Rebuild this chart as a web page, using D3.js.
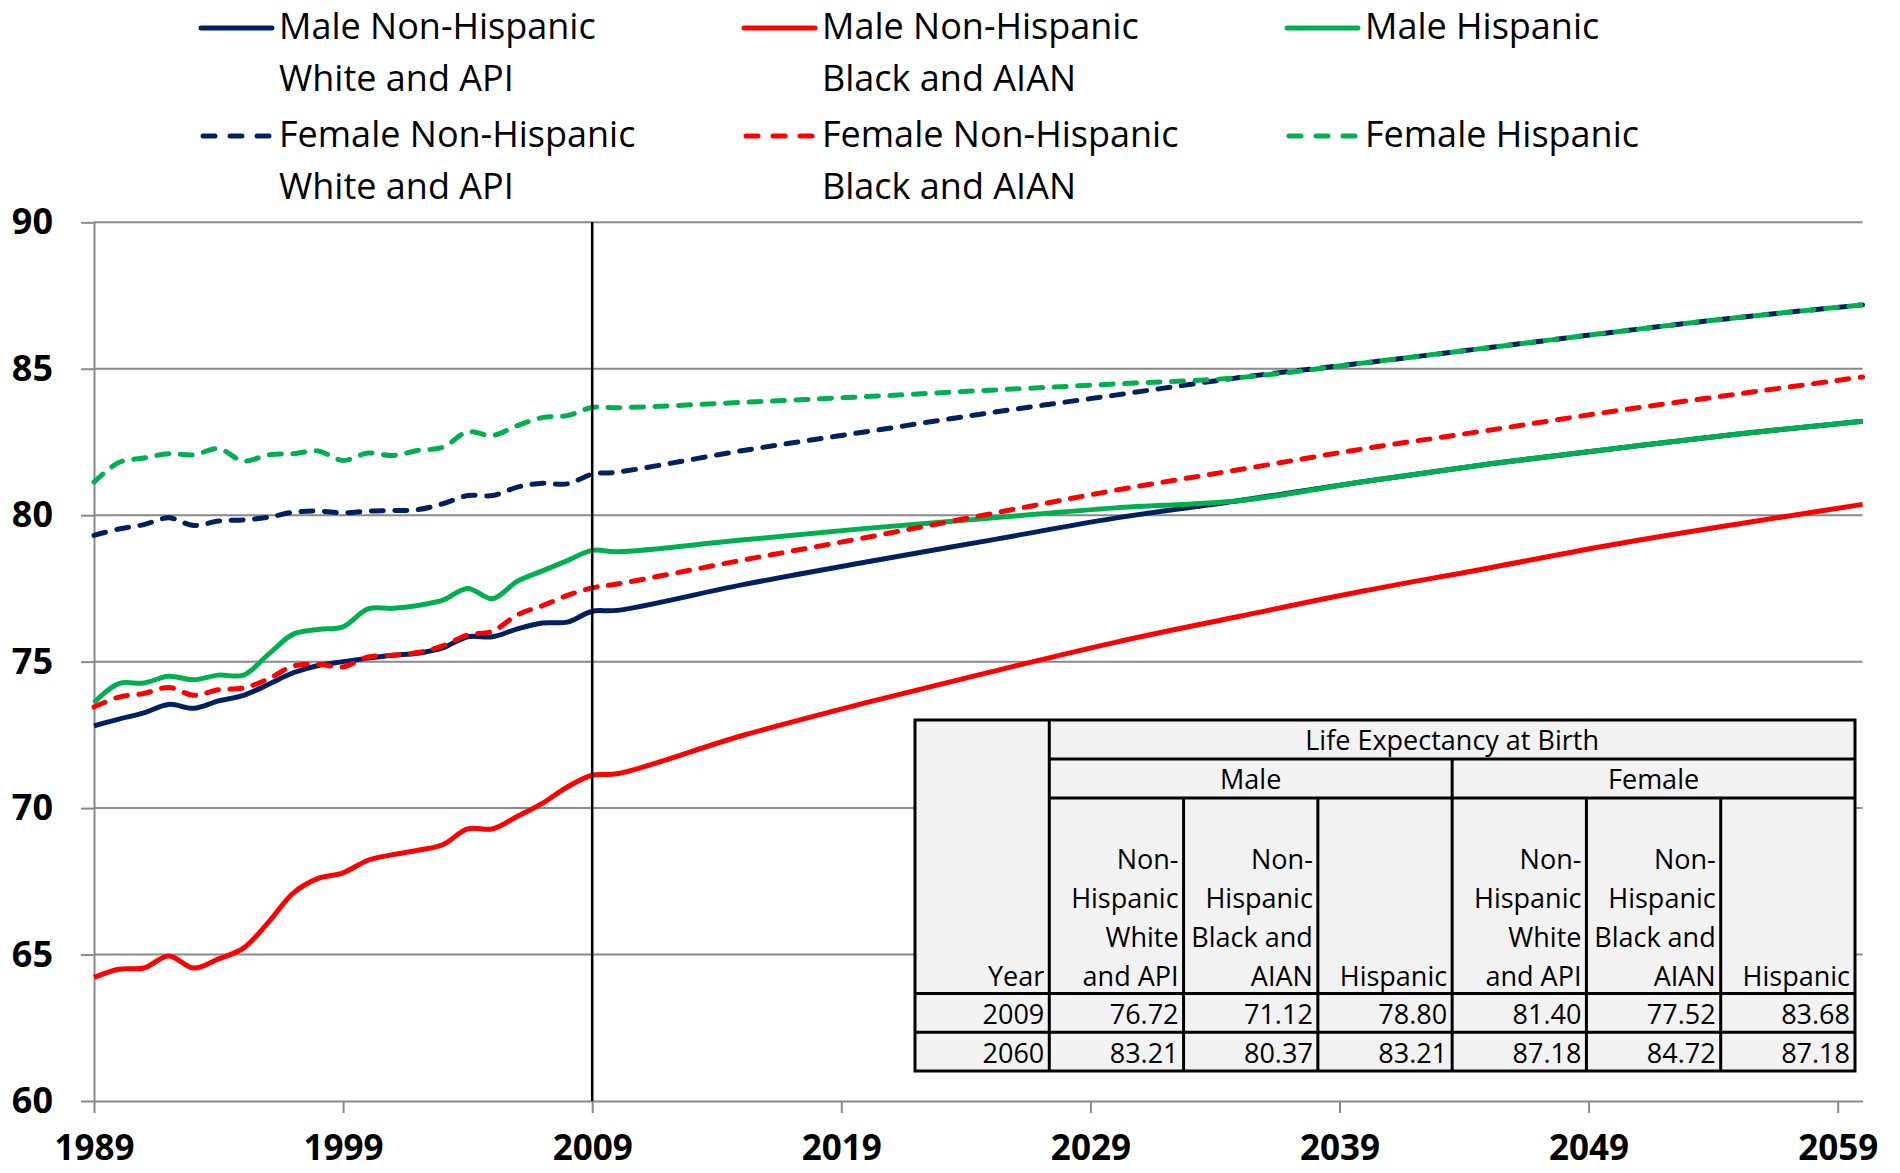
<!DOCTYPE html>
<html>
<head>
<meta charset="utf-8">
<script src="https://cdn.jsdelivr.net/npm/d3@7"></script>
<style>
  body { margin: 0; background: #fff; }
  svg { display: block; font-family: 'Open Sans', sans-serif; }
</style>
</head>
<body>
<svg id="chart" width="1900" height="1173"></svg>
<script>
// years: annual history, then the projection read every 5 years
const years = [1989, 1990, 1991, 1992, 1993, 1994, 1995, 1996, 1997, 1998, 1999,
               2000, 2001, 2002, 2003, 2004, 2005, 2006, 2007, 2008, 2009, 2010,
               2015, 2020, 2025, 2030, 2035, 2040, 2045, 2050, 2055, 2060]

const maleNHWhite = [72.81, 73.04, 73.25, 73.54, 73.41, 73.66, 73.85, 74.22, 74.62, 74.87, 75.00,
                     75.12, 75.22, 75.29, 75.47, 75.85, 75.85, 76.12, 76.32, 76.35, 76.72, 76.75,
                     77.62, 78.40, 79.15, 79.90, 80.50, 81.15, 81.75, 82.27, 82.77, 83.21]
const maleNHBlack = [64.22, 64.50, 64.54, 64.95, 64.54, 64.85, 65.22, 66.10, 67.10, 67.60, 67.79,
                     68.22, 68.41, 68.56, 68.75, 69.29, 69.29, 69.72, 70.16, 70.72, 71.12, 71.17,
                     72.47, 73.60, 74.65, 75.66, 76.55, 77.42, 78.20, 79.00, 79.70, 80.37]
const maleHispanic = [73.60, 74.25, 74.27, 74.50, 74.38, 74.54, 74.54, 75.25, 75.94, 76.10, 76.19,
                      76.80, 76.82, 76.92, 77.10, 77.50, 77.15, 77.75, 78.10, 78.45, 78.80, 78.75,
                      79.15, 79.55, 79.90, 80.25, 80.50, 81.15, 81.75, 82.27, 82.77, 83.21]
const femaleNHWhite = [79.31, 79.53, 79.68, 79.91, 79.65, 79.80, 79.84, 79.93, 80.10, 80.14, 80.08,
                       80.14, 80.16, 80.19, 80.39, 80.67, 80.67, 80.96, 81.09, 81.07, 81.40, 81.47,
                       82.20, 82.85, 83.50, 84.10, 84.70, 85.20, 85.72, 86.25, 86.75, 87.18]
const femaleNHBlack = [73.45, 73.79, 73.91, 74.12, 73.85, 74.04, 74.10, 74.41, 74.85, 74.91, 74.82,
                       75.16, 75.22, 75.31, 75.54, 75.91, 76.04, 76.60, 76.91, 77.26, 77.52, 77.65,
                       78.46, 79.24, 80.05, 80.85, 81.56, 82.27, 82.90, 83.55, 84.14, 84.72]
const femaleHispanic = [81.13, 81.80, 81.95, 82.10, 82.06, 82.27, 81.85, 82.06, 82.10, 82.19, 81.87,
                        82.12, 82.04, 82.21, 82.32, 82.84, 82.72, 83.06, 83.33, 83.40, 83.68, 83.67,
                        83.85, 84.05, 84.27, 84.48, 84.70, 85.20, 85.72, 86.25, 86.75, 87.18]

const seriesNames = [['Male Non-Hispanic', 'White and API'], ['Male Non-Hispanic', 'Black and AIAN'], ['Male Hispanic'],
                     ['Female Non-Hispanic', 'White and API'], ['Female Non-Hispanic', 'Black and AIAN'], ['Female Hispanic']]
const seriesColors = ['#002060', '#ff0000', '#00b050', '#002060', '#ff0000', '#00b050']
const seriesDashed = [false, false, false, true, true, true]
const seriesValues = [maleNHWhite, maleNHBlack, maleHispanic, femaleNHWhite, femaleNHBlack, femaleHispanic]

const xTicks = [1989, 1999, 2009, 2019, 2029, 2039, 2049, 2059]
const yTicks = [60, 65, 70, 75, 80, 85, 90]
const markerYear = 2009

// inset table
const tableTitle = 'Life Expectancy at Birth'
const tableGroups = ['Male', 'Female']
const tableHeaders = [['Year'], ['Non-', 'Hispanic', 'White', 'and API'], ['Non-', 'Hispanic', 'Black and', 'AIAN'], ['Hispanic'],
                      ['Non-', 'Hispanic', 'White', 'and API'], ['Non-', 'Hispanic', 'Black and', 'AIAN'], ['Hispanic']]
const tableYears = ['2009', '2060']
const table2009 = ['76.72', '71.12', '78.80', '81.40', '77.52', '83.68']
const table2060 = ['83.21', '80.37', '83.21', '87.18', '84.72', '87.18']

const plotLeft = 94
    , plotRight = 1862.6
    , plotTop = 222.3
    , plotBottom = 1101
    , gridColor = '#898989'
    , svg = d3.select('#chart')
    , x = d3.scaleLinear().domain([1989, 2060]).range([plotLeft, plotRight])
    , y = d3.scaleLinear().domain([60, 90]).range([plotBottom, plotTop])

// gridlines
svg.append('g')
    .selectAll('line')
    .data(yTicks.filter(d => d > 60))
    .join('line')
    .attr('x1', plotLeft).attr('x2', plotRight)
    .attr('y1', y).attr('y2', y)
    .attr('stroke', gridColor)
    .attr('stroke-width', 2)

const styleAxis = size => g => {
    g.selectAll('path.domain').attr('stroke', gridColor).attr('stroke-width', 2)
    g.selectAll('.tick line').attr('stroke', gridColor).attr('stroke-width', 2)
    g.selectAll('.tick text')
        .attr('fill', '#000')
        .attr('font-family', "'Open Sans', sans-serif")
        .attr('font-weight', 'bold')
        .attr('font-size', size)
}

svg.append('g')
    .attr('transform', `translate(${plotLeft},0)`)
    .call(d3.axisLeft(y).tickValues(yTicks).tickSize(13).tickSizeOuter(0).tickPadding(28))
    .call(styleAxis(36))

svg.append('g')
    .attr('transform', `translate(0,${plotBottom})`)
    .call(d3.axisBottom(x).tickValues(xTicks).tickFormat(d3.format('d')).tickSize(12).tickSizeOuter(0).tickPadding(22))
    .call(styleAxis(35))

// series
const line = d3.line()
    .x((d, i) => x(years[i]))
    .y(d => y(d))
    .curve(d3.curveCatmullRom.alpha(0.5))

svg.append('g')
    .selectAll('path')
    .data(seriesValues)
    .join('path')
    .attr('d', line)
    .attr('fill', 'none')
    .attr('stroke', (d, i) => seriesColors[i])
    .attr('stroke-width', 5)
    .attr('stroke-linecap', (d, i) => seriesDashed[i] ? 'round' : 'butt')
    .attr('stroke-linejoin', 'round')
    .attr('stroke-dasharray', (d, i) => seriesDashed[i] ? '12,11.5' : null)

// divider between history and projection
svg.append('line')
    .attr('x1', x(markerYear)).attr('x2', x(markerYear))
    .attr('y1', plotTop).attr('y2', plotBottom)
    .attr('stroke', '#000')
    .attr('stroke-width', 2.5)

// legend
const legendCols = [279, 822, 1365]
    , legendRows = [39, 147]
    , legendLineGap = 52
const legend = svg.append('g')
    .selectAll('g')
    .data(seriesNames)
    .join('g')
    .attr('transform', (d, i) => `translate(${legendCols[i % 3]},${legendRows[Math.floor(i / 3)]})`)
legend.append('line')
    .attr('x1', (d, i) => seriesDashed[i] ? -76 : -78)
    .attr('x2', (d, i) => seriesDashed[i] ? -10 : -7)
    .attr('y1', -11).attr('y2', -11)
    .attr('stroke', (d, i) => seriesColors[i])
    .attr('stroke-width', 5)
    .attr('stroke-linecap', 'round')
    .attr('stroke-dasharray', (d, i) => seriesDashed[i] ? '12,15' : null)
legend.append('text')
    .attr('font-size', 36)
    .attr('fill', '#000')
    .selectAll('tspan')
    .data(d => d)
    .join('tspan')
    .attr('x', 0)
    .attr('y', (d, i) => i * legendLineGap)
    .text(d => d)

// table
const tLeft = 915, tRight = 1855
    , colW = (tRight - tLeft) / 7
    , rowY = [720, 759, 798, 993.6, 1032.3, 1071]
    , lineGap = 38.8
    , tFont = 27
    , colX = i => tLeft + i * colW
const tbl = svg.append('g')
tbl.append('rect')
    .attr('x', tLeft).attr('y', rowY[0])
    .attr('width', tRight - tLeft).attr('height', rowY[5] - rowY[0])
    .attr('fill', '#f2f2f2')
const rules = [
    [colX(1), rowY[1], tRight, rowY[1]],
    [colX(1), rowY[2], tRight, rowY[2]],
    [tLeft, rowY[3], tRight, rowY[3]],
    [tLeft, rowY[4], tRight, rowY[4]],
    [colX(1), rowY[0], colX(1), rowY[5]],
    [colX(4), rowY[1], colX(4), rowY[5]],
    ...[2, 3, 5, 6].map(c => [colX(c), rowY[2], colX(c), rowY[5]])
]
tbl.selectAll('line')
    .data(rules)
    .join('line')
    .attr('x1', d => d[0]).attr('y1', d => d[1])
    .attr('x2', d => d[2]).attr('y2', d => d[3])
    .attr('stroke', '#000').attr('stroke-width', 3)
tbl.append('rect')
    .attr('x', tLeft).attr('y', rowY[0])
    .attr('width', tRight - tLeft).attr('height', rowY[5] - rowY[0])
    .attr('fill', 'none').attr('stroke', '#000').attr('stroke-width', 3)

const tText = tbl.append('g').attr('font-size', tFont).attr('fill', '#000')
tText.append('text')
    .attr('x', (colX(1) + tRight) / 2).attr('y', rowY[1] - 9)
    .attr('text-anchor', 'middle')
    .text(tableTitle)
tText.selectAll('text.group')
    .data(tableGroups)
    .join('text')
    .attr('class', 'group')
    .attr('x', (d, i) => (colX(1 + i * 3) + colX(4 + i * 3)) / 2)
    .attr('y', rowY[2] - 9)
    .attr('text-anchor', 'middle')
    .text(d => d)
tText.selectAll('text.head')
    .data(tableHeaders)
    .join('text')
    .attr('class', 'head')
    .attr('text-anchor', 'end')
    .each(function (lines, c) {
        d3.select(this).selectAll('tspan')
            .data(lines)
            .join('tspan')
            .attr('x', colX(c + 1) - 5)
            .attr('y', (d, i) => rowY[3] - 8 - (lines.length - 1 - i) * lineGap)
            .text(d => d)
    })
const bodyRows = [[tableYears[0], ...table2009], [tableYears[1], ...table2060]]
bodyRows.forEach((row, r) => {
    tText.selectAll(`text.r${r}`)
        .data(row)
        .join('text')
        .attr('class', `r${r}`)
        .attr('text-anchor', 'end')
        .attr('x', (d, c) => colX(c + 1) - 5)
        .attr('y', rowY[4 + r] - 8)
        .text(d => d)
})
</script>
</body>
</html>
